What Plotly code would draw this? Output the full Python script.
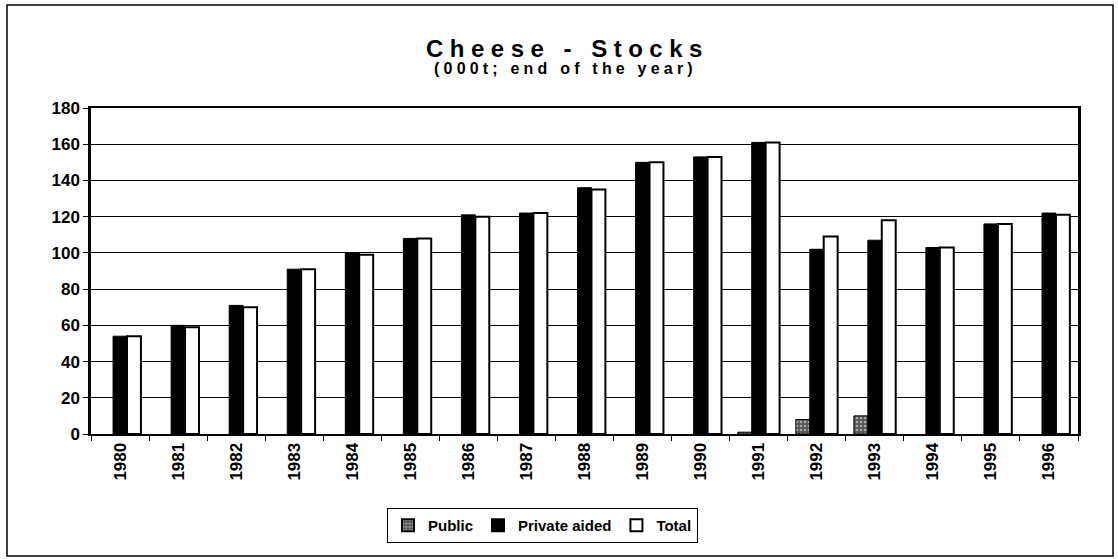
import plotly.graph_objects as go

# Cheese stocks, thousand tonnes at end of year
years = ["1980", "1981", "1982", "1983", "1984", "1985", "1986", "1987", "1988",
         "1989", "1990", "1991", "1992", "1993", "1994", "1995", "1996"]
public = [0, 0, 0, 0, 0, 0, 0, 0, 0, 0, 0, 1, 8, 10, 0, 0, 0]
private_aided = [54, 60, 71, 91, 100, 108, 121, 122, 136, 150, 153, 161, 102, 107, 103, 116, 122]
total = [54, 59, 70, 91, 99, 108, 120, 122, 135, 150, 153, 161, 109, 118, 103, 116, 121]
y_ticks = [0, 20, 40, 60, 80, 100, 120, 140, 160, 180]

FONT = "Liberation Sans, Arial, sans-serif"

fig = go.Figure()
# empty years are left blank so no outline is drawn on the axis
fig.add_trace(go.Bar(
    x=years, y=[v if v else None for v in public], name="Public",
    marker=dict(color="#555555", line=dict(color="black", width=1),
                pattern=dict(shape=".", fgcolor="white", bgcolor="#555555",
                             size=4, solidity=0.35)),
))
fig.add_trace(go.Bar(
    x=years, y=private_aided, name="Private aided",
    marker=dict(color="black", line=dict(color="black", width=1)),
))
fig.add_trace(go.Bar(
    x=years, y=total, name="Total",
    marker=dict(color="white", line=dict(color="black", width=2)),
))

# plot-area geometry in pixels, used to place the outer frame in paper units
W, H = 1118, 559
L, R, T, B = 91, 1078, 108, 434
pw, ph = R - L, B - T


def px_x(x):
    return (x - L) / pw


def px_y(y):
    return (B - y) / ph


fig.update_layout(
    width=W, height=H,
    margin=dict(l=L, r=W - R, t=T, b=H - B, pad=0),
    paper_bgcolor="white", plot_bgcolor="white",
    barmode="group", bargap=0.28, bargroupgap=0,
    font=dict(family=FONT, color="black", size=13, weight="bold"),
    showlegend=True,
    legend=dict(
        orientation="h", x=px_x(387), xanchor="left", y=px_y(508), yanchor="top",
        bordercolor="black", borderwidth=1, bgcolor="white",
        font=dict(family=FONT, size=15, color="black", weight="bold"),
        itemsizing="constant", itemwidth=30, tracegroupgap=0,
    ),
    xaxis=dict(
        type="category", tickangle=-90, tickson="boundaries",
        ticks="outside", ticklen=5, tickwidth=1, tickcolor="black",
        showline=True, linecolor="black", linewidth=2, mirror=True,
        showgrid=False,
        tickfont=dict(family=FONT, size=17, color="black", weight="bold"),
    ),
    yaxis=dict(
        range=[0, 180], tickvals=y_ticks,
        ticks="outside", ticklen=5, tickwidth=1, tickcolor="black",
        showline=True, linecolor="black", linewidth=2.5, mirror=True,
        showgrid=True, gridcolor="black", gridwidth=1,
        zeroline=False,
        tickfont=dict(family=FONT, size=17, color="black", weight="bold"),
    ),
    shapes=[dict(
        type="rect", xref="paper", yref="paper",
        x0=px_x(7), x1=px_x(1113), y0=px_y(556), y1=px_y(5),
        line=dict(color="black", width=1.5), fillcolor="rgba(0,0,0,0)", layer="below",
    )],
    annotations=[
        dict(text="<span style='letter-spacing:6.5px'>Cheese - Stocks</span>",
             xref="paper", yref="paper",
             x=px_x(567), y=px_y(49), xanchor="center", yanchor="middle",
             showarrow=False,
             font=dict(family=FONT, size=24, color="black", weight="bold")),
        dict(text="<span style='letter-spacing:4.2px'>(000t; end of the year)</span>",
             xref="paper", yref="paper",
             x=px_x(565), y=px_y(68), xanchor="center", yanchor="middle",
             showarrow=False,
             font=dict(family=FONT, size=16, color="black", weight="bold")),
    ],
)

fig.write_html("out.html")
